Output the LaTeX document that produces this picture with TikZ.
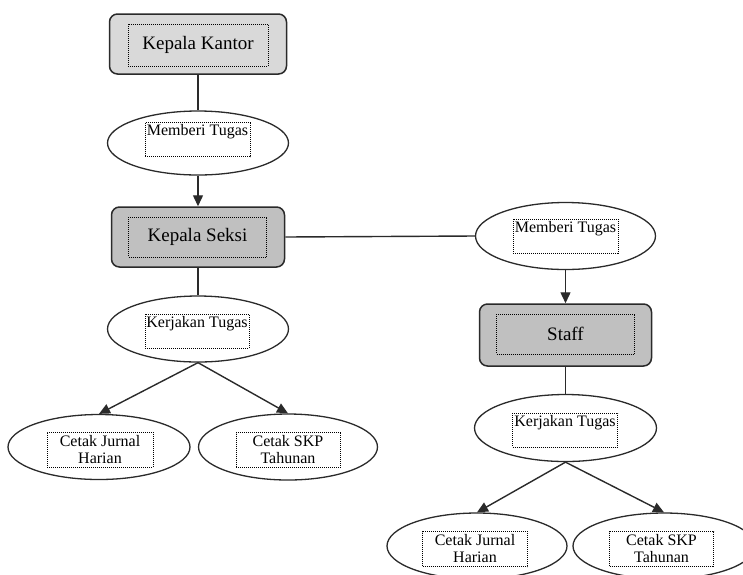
\documentclass[tikz,border=0pt]{standalone}
\usepackage{fontspec}
\setmainfont{Liberation Serif}
\usetikzlibrary{shapes.geometric,arrows.meta}
\definecolor{edge}{HTML}{2A2A2A}
\definecolor{lightfill}{HTML}{D9D9D9}
\definecolor{darkfill}{HTML}{C0C0C0}
\tikzset{
  rolebox/.style={draw=edge, line width=1.5pt, rounded corners=8pt, inner sep=0pt},
  lightbox/.style={rolebox, fill=lightfill},
  darkbox/.style={rolebox, fill=darkfill},
  oval/.style={ellipse, draw=edge, line width=1.3pt, fill=white, inner sep=0pt},
  dotframe/.style={draw=black, line width=0.8pt, dash pattern=on 1pt off 1pt, inner sep=0pt},
  boxtext/.style={dotframe, font=\fontsize{19}{21}\selectfont},
  ovaltext/.style={dotframe, font=\fontsize{16}{18}\selectfont, text height=13pt, text depth=21pt, inner xsep=1pt},
  twoline/.style={dotframe, font=\fontsize{16}{17}\selectfont, align=center, minimum height=35pt},
  link/.style={draw=edge, line width=1.4pt},
  arrowlink/.style={link, -{Triangle[length=11pt,width=10pt]}}
}
\begin{document}
\begin{tikzpicture}[x=1pt,y=-1pt]
\useasboundingbox (0,0) rectangle (743,574);
\clip (0,0) rectangle (743,574);

% role boxes
\node[lightbox, minimum width=177pt, minimum height=60pt] (kk) at (198,44) {};
\node[boxtext, minimum width=140pt, minimum height=42pt] (kkt) at (198,45) {Kepala Kantor};
\node[darkbox, minimum width=173pt, minimum height=60pt] (ks) at (198,237) {};
\node[boxtext, minimum width=138pt, minimum height=40pt] (kst) at (197.5,237) {Kepala Seksi};
\node[darkbox, minimum width=172pt, minimum height=62pt] (st) at (565.5,335) {};
\node[boxtext, minimum width=138pt, minimum height=40pt] (stt) at (565.5,334) {Staff};

% activity ovals
\node[oval, minimum width=181pt, minimum height=64pt] (mt1) at (198,143) {};
\node[ovaltext, minimum width=105pt] (mt1t) at (197.5,139.5) {Memberi Tugas};
\node[oval, minimum width=180pt, minimum height=67pt] (mt2) at (565.5,236) {};
\node[ovaltext, minimum width=105pt] (mt2t) at (565.5,236) {Memberi Tugas};
\node[oval, minimum width=181pt, minimum height=66pt] (kt1) at (198,329) {};
\node[ovaltext, minimum width=104pt] (kt1t) at (197,331) {Kerjakan Tugas};
\node[oval, minimum width=182pt, minimum height=67pt] (kt2) at (565.5,428) {};
\node[ovaltext, minimum width=105pt] (kt2t) at (565,430) {Kerjakan Tugas};

% output ovals
\node[oval, minimum width=182pt, minimum height=65pt] (cj1) at (99,447) {};
\node[twoline, minimum width=106pt] (cj1t) at (100,449.5) {Cetak Jurnal\\Harian};
\node[oval, minimum width=179pt, minimum height=66pt] (sk1) at (288,447) {};
\node[twoline, minimum width=104pt] (sk1t) at (288,450) {Cetak SKP\\Tahunan};
\node[oval, minimum width=180pt, minimum height=66pt] (cj2) at (477,546) {};
\node[twoline, minimum width=105pt] (cj2t) at (475,549) {Cetak Jurnal\\Harian};
\node[oval, minimum width=182pt, minimum height=66pt] (sk2) at (664,546) {};
\node[twoline, minimum width=104pt] (sk2t) at (661.5,549) {Cetak SKP\\Tahunan};

% connectors
\draw[link] (kk.south) -- (mt1.north);
\draw[arrowlink] (mt1.south) -- (ks.north);
\draw[link] (ks.east) -- (mt2.west);
\draw[arrowlink] (mt2.south) -- (st.north);
\draw[link] (ks.south) -- (kt1.north);
\draw[link] (st.south) -- (kt2.north);
\draw[arrowlink] (kt1.south) -- (cj1.north);
\draw[arrowlink] (kt1.south) -- (sk1.north);
\draw[arrowlink] (kt2.south) -- (cj2.north);
\draw[arrowlink] (kt2.south) -- (sk2.north);
\end{tikzpicture}
\end{document}
